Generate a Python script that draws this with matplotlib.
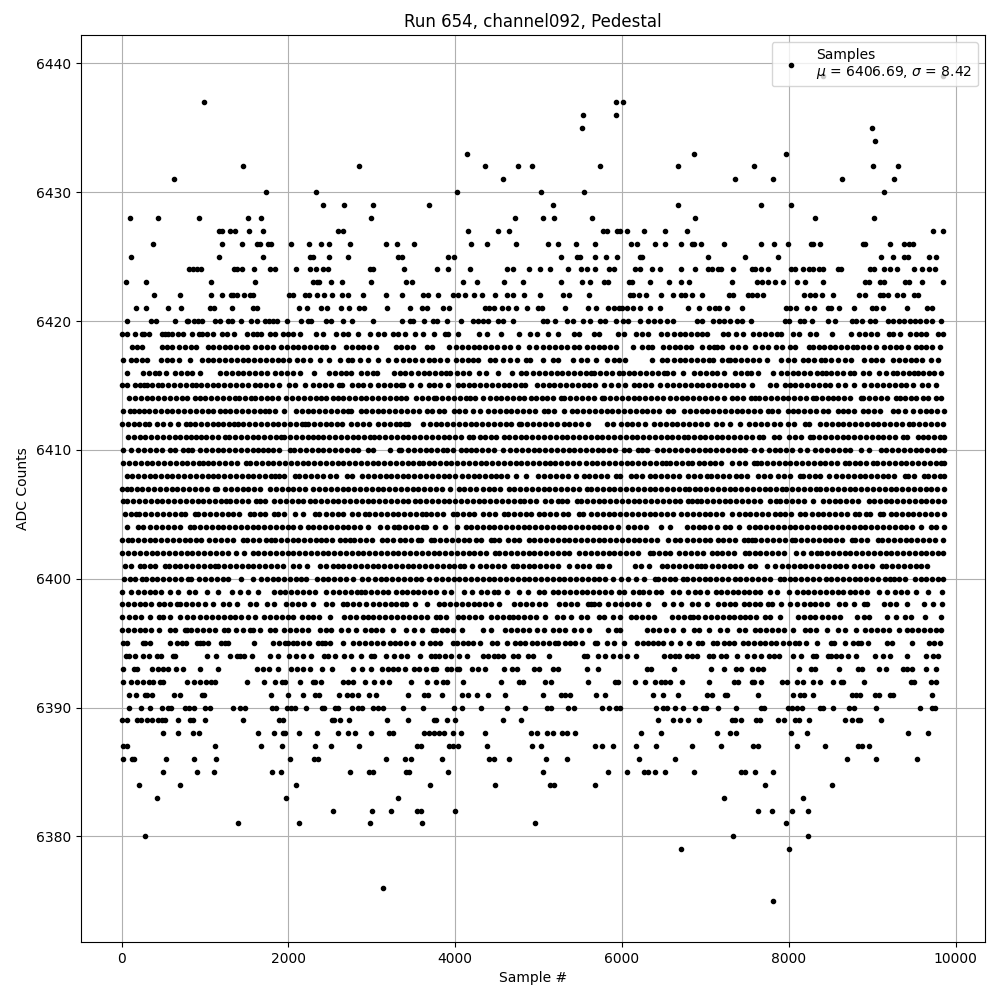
import matplotlib
matplotlib.use("Agg")
import matplotlib.pyplot as plt

# sample numbers, one list per ADC level
s6439 = [8408, 9848]
s6437 = [992, 5932, 6016]
s6436 = [5536, 5932]
s6435 = [5524, 8996]
s6434 = [9032]
s6433 = [4144, 6860, 7964]
s6432 = [1460, 2852, 4360, 4756, 4924, 5740, 6676, 7580, 9008, 9308]
s6431 = [632, 4576, 7352, 7808, 8636, 9260]
s6430 = [1736, 2336, 4024, 5032, 5548, 9140]
s6429 = [2420, 2672, 3020, 3688, 5176, 6676, 7664, 8024]
s6428 = [104, 440, 932, 1520, 1676, 2996, 4720, 5056, 5188, 5644, 6872, 8312, 9020]
s6427 = [1172, 1200, 1304, 1364, 1532, 1700, 2600, 2660, 4156, 4516, 4648, 5776, 5824, 5936, 5976, 6064, 6268, 6520, 6776, 9728, 9848]
s6426 = [380, 1208, 1448, 1628, 1660, 1760, 1792, 2036, 2252, 2396, 2492, 2744, 3176, 3304, 3508, 4192, 4384, 4732, 5116, 5236, 5452, 5680, 6112, 6184, 6400, 6520, 6708, 6836, 6860, 6944, 7220, 7664, 7820, 7988, 8268, 8288, 8372, 8888, 8912, 9212, 9380, 9440, 9488]
s6425 = [116, 1172, 1700, 2260, 2292, 2492, 2720, 3320, 3364, 3916, 3988, 5272, 5464, 5496, 5680, 5812, 5944, 6216, 6244, 7028, 7472, 7868, 9104, 9248, 9380, 9428, 9680, 9764]
s6424 = [812, 860, 900, 948, 1352, 1388, 1440, 1592, 1784, 1844, 2088, 2264, 2332, 2420, 2472, 2980, 3020, 3388, 3784, 3916, 4180, 4624, 4696, 4888, 5020, 5140, 5356, 5512, 5576, 5680, 5848, 5908, 6160, 6216, 6364, 6460, 6712, 6872, 7028, 7076, 7148, 7188, 7328, 7556, 7592, 7664, 7748, 8024, 8080, 8168, 8240, 8288, 8360, 8408, 8588, 8624, 8972, 9020, 9140, 9208, 9296, 9500, 9596, 9680, 9752]
s6423 = [56, 296, 1076, 1604, 2300, 2340, 2372, 2516, 2648, 2996, 3412, 3484, 4096, 4264, 4588, 4816, 5272, 5524, 5616, 5788, 5836, 6088, 6120, 6340, 6568, 6712, 6800, 7316, 7616, 7676, 7748, 7832, 7928, 8096, 8192, 8408, 8912, 8960, 9092, 9140, 9392, 9440, 9596, 9848]
s6422 = [392, 704, 1076, 1200, 1308, 1340, 1380, 1468, 1540, 1580, 2012, 2060, 2200, 2252, 2348, 2432, 2528, 2648, 2720, 2900, 3176, 3364, 3616, 3676, 3796, 3976, 4036, 4120, 4228, 4316, 4480, 4624, 4696, 4828, 5020, 5296, 5368, 5608, 6100, 6136, 6208, 6288, 6472, 6616, 6708, 6760, 6836, 6956, 7280, 7328, 7508, 7556, 7616, 7688, 8180, 8252, 8312, 8396, 8528, 8840, 8912, 9092, 9128, 9188, 9296, 9368, 9500, 9548]
s6421 = [176, 296, 560, 716, 1060, 1112, 1328, 1580, 1620, 2132, 2228, 2396, 2468, 2636, 2732, 2852, 2912, 3188, 3460, 3604, 3656, 3856, 3928, 4356, 4410, 4470, 4556, 4636, 4732, 4864, 4996, 5036, 5320, 5596, 5692, 5836, 5900, 5960, 6000, 6060, 6136, 6220, 6340, 6460, 6788, 6920, 7040, 7120, 7168, 7256, 7436, 7964, 8020, 8088, 8216, 8300, 8468, 8508, 8600, 8780, 8996, 9048, 9128, 9416, 9656, 9716]
s6420 = [68, 356, 416, 644, 780, 800, 872, 920, 968, 1124, 1184, 1280, 1320, 1436, 1556, 1628, 1724, 1772, 1820, 1860, 1988, 2148, 2240, 2276, 2456, 2516, 2660, 2768, 3020, 3364, 3460, 3496, 3628, 3736, 3776, 3904, 4072, 4216, 4276, 4336, 4396, 4516, 4576, 4696, 5056, 5096, 5200, 5344, 5416, 5536, 5620, 5736, 5796, 5932, 6016, 6076, 6216, 6316, 6388, 6456, 6536, 6608, 6896, 6956, 7088, 7160, 7228, 7296, 7376, 7436, 7544, 7952, 8008, 8132, 8180, 8276, 8468, 8552, 8756, 8808, 8876, 8972, 9032, 9188, 9248, 9320, 9376, 9448, 9512, 9572, 9644, 9716, 9824]
s6419 = [0, 68, 164, 240, 272, 332, 480, 520, 560, 608, 680, 740, 840, 928, 964, 1028, 1100, 1200, 1260, 1352, 1508, 1580, 1620, 1676, 1784, 1844, 1940, 2000, 2060, 2140, 2332, 2420, 2572, 2652, 2720, 2840, 2980, 3080, 3152, 3256, 3316, 3396, 3524, 3616, 3748, 3876, 3916, 4036, 4288, 4376, 4552, 4768, 4896, 4976, 5116, 5236, 5420, 5490, 5660, 5730, 5950, 6020, 6170, 6240, 6310, 6470, 6540, 6620, 6700, 6760, 6830, 6900, 6960, 7020, 7208, 7268, 7368, 7450, 7576, 7648, 7720, 7790, 7860, 7908, 8048, 8120, 8256, 8328, 8516, 8744, 8848, 8920, 8990, 9060, 9200, 9248, 9328, 9448, 9520, 9590, 9648, 9788, 9848]
s6418 = [120, 190, 250, 480, 550, 610, 690, 760, 830, 890, 1030, 1100, 1170, 1240, 1300, 1370, 1440, 1500, 1600, 1670, 1740, 1810, 1910, 1980, 2050, 2120, 2190, 2260, 2330, 2400, 2450, 2540, 2690, 2760, 2830, 2900, 2970, 3050, 3290, 3350, 3420, 3490, 3660, 3720, 3928, 4010, 4080, 4150, 4220, 4290, 4360, 4430, 4500, 4590, 4660, 4750, 4890, 4970, 5056, 5128, 5200, 5270, 5340, 5420, 5488, 5576, 5650, 5720, 5790, 5860, 5930, 6130, 6240, 6310, 6360, 6490, 6560, 6630, 6700, 6770, 6830, 6960, 7040, 7100, 7140, 7200, 7320, 7390, 7480, 7600, 7680, 7750, 7848, 7920, 8010, 8080, 8248, 8290, 8360, 8420, 8490, 8560, 8630, 8700, 8770, 8820, 8890, 8960, 9050, 9140, 9210, 9280, 9350, 9430, 9520, 9590, 9650, 9720, 9808]
s6417 = [20, 110, 170, 240, 310, 470, 540, 600, 690, 824, 964, 1030, 1100, 1170, 1240, 1310, 1380, 1450, 1520, 1590, 1660, 1730, 1800, 1870, 1940, 2010, 2100, 2180, 2260, 2380, 2492, 2620, 2720, 2768, 2860, 2960, 3080, 3200, 3290, 3380, 3450, 3520, 3600, 3680, 3750, 3820, 3900, 4010, 4080, 4150, 4210, 4276, 4416, 4476, 4576, 4656, 4736, 4848, 4896, 5048, 5176, 5236, 5408, 5504, 5584, 5690, 5816, 5900, 5970, 6036, 6356, 6476, 6544, 6620, 6690, 6760, 6830, 6900, 6970, 7040, 7090, 7200, 7268, 7290, 7360, 7430, 7500, 7570, 7640, 7736, 7908, 7988, 8068, 8168, 8228, 8300, 8388, 8436, 8508, 8588, 8680, 8748, 8908, 8988, 9048, 9120, 9248, 9320, 9390, 9460, 9530, 9600, 9708, 9788]
s6416 = [68, 260, 330, 400, 450, 530, 640, 710, 780, 850, 940, 1180, 1250, 1320, 1390, 1460, 1530, 1600, 1670, 1745, 1840, 1910, 1980, 2050, 2135, 2304, 2490, 2560, 2630, 2695, 2756, 2870, 2940, 3010, 3065, 3270, 3340, 3400, 3470, 3550, 3620, 3690, 3760, 3830, 3890, 3936, 4025, 4095, 4168, 4285, 4370, 4516, 4676, 4785, 4850, 4928, 5004, 5076, 5145, 5215, 5285, 5355, 5425, 5495, 5565, 5625, 5665, 5735, 5805, 5875, 5970, 6010, 6080, 6150, 6220, 6290, 6360, 6430, 6500, 6545, 6616, 6736, 6865, 6935, 7005, 7075, 7145, 7225, 7355, 7425, 7495, 7545, 7636, 7815, 7905, 7975, 8045, 8115, 8185, 8255, 8335, 8395, 8445, 8510, 8580, 8650, 8730, 8785, 8895, 8960, 9085, 9160, 9245, 9296, 9375, 9445, 9505, 9545, 9615, 9685, 9745, 9824]
s6415 = [8, 70, 165, 220, 270, 300, 370, 440, 480, 560, 630, 700, 770, 840, 895, 950, 1020, 1090, 1160, 1230, 1300, 1370, 1440, 1510, 1605, 1660, 1730, 1800, 1885, 2010, 2075, 2195, 2295, 2370, 2440, 2510, 2605, 2648, 2760, 2830, 2900, 2975, 3075, 3145, 3215, 3285, 3350, 3380, 3470, 3580, 3685, 3750, 3820, 3910, 4030, 4090, 4160, 4230, 4300, 4370, 4440, 4510, 4580, 4650, 4720, 4790, 4840, 4984, 5050, 5120, 5190, 5260, 5330, 5400, 5470, 5540, 5610, 5680, 5780, 5865, 5950, 6035, 6150, 6205, 6275, 6345, 6450, 6545, 6615, 6685, 6755, 6825, 6895, 6965, 7035, 7105, 7175, 7245, 7315, 7385, 7456, 7556, 7775, 7845, 7955, 8010, 8080, 8150, 8220, 8290, 8360, 8430, 8500, 8595, 8672, 8780, 8900, 8990, 9060, 9130, 9200, 9270, 9340, 9410, 9485, 9595, 9665, 9770]
s6414 = [90, 160, 230, 300, 370, 440, 510, 580, 650, 720, 790, 875, 935, 1005, 1075, 1145, 1215, 1290, 1365, 1410, 1480, 1555, 1600, 1670, 1740, 1805, 1876, 1975, 2045, 2115, 2185, 2255, 2325, 2395, 2455, 2535, 2595, 2655, 2725, 2795, 2865, 2935, 3005, 3075, 3145, 3215, 3285,
         3350, 3410, 3535, 3605, 3675, 3740, 3775, 3845, 3915, 3985, 4055, 4125, 4180, 4235, 4330, 4415, 4485, 4555, 4625, 4695, 4765, 4830, 4912, 4965, 5035, 5105, 5175, 5270, 5310, 5380, 5450, 5520, 5590, 5660, 5760, 5790, 5860, 5930, 6000, 6070, 6140, 6210, 6280, 6350, 6420, 6490, 6575, 6645, 6715,
         6785, 6855, 6925, 6995, 7065, 7135, 7225, 7315, 7385, 7455, 7545, 7596, 7645, 7715, 7785, 7855, 7925, 7995, 8065, 8135, 8205, 8285, 8330, 8400, 8470, 8530, 8595, 8665, 8735, 8865, 8895, 8965, 9035, 9105, 9175, 9285, 9328, 9390, 9460, 9530, 9605, 9675, 9765, 9828]
s6413 = [20, 100, 150, 210, 270, 330, 400, 470, 540, 610, 680, 750, 820, 890, 960, 1030, 1100, 1175, 1235, 1305, 1375, 1445, 1515, 1585, 1655, 1725, 1770, 1840, 1945, 2088, 2160, 2230, 2300, 2370, 2440, 2510, 2580, 2650, 2715, 2755, 2865, 2930, 3000, 3070, 3140, 3210, 3280,
         3350, 3420, 3495, 3565, 3660, 3724, 3808, 3865, 3990, 4045, 4115, 4210, 4300, 4395, 4465, 4535, 4605, 4675, 4745, 4815, 4885, 4955, 5070, 5110, 5180, 5300, 5395, 5465, 5535, 5605, 5675, 5745, 5815, 5885, 5955, 6025, 6095, 6165, 6235, 6305, 6375, 6445, 6550, 6616, 6748,
         6815, 6885, 6955, 7025, 7095, 7165, 7235, 7305, 7375, 7445, 7515, 7585, 7655, 7745, 7795, 7865, 7995, 8045, 8115, 8185, 8255, 8330, 8405, 8475, 8585, 8645, 8715, 8785, 8895, 8955, 9025, 9095, 9255, 9308, 9395, 9495, 9570, 9640, 9710, 9780, 9860]
s6412 = [5, 75, 145, 212, 280, 330, 430, 500, 575, 680, 770, 815, 880, 950, 1020, 1090, 1160, 1215, 1290, 1345, 1390, 1460, 1530, 1600, 1670, 1740, 1810, 1880, 1950, 2020, 2090, 2160, 2205, 2235, 2305, 2375, 2445, 2515, 2585, 2645, 2755, 2825, 2895, 2965, 3075, 3150, 3220, 3290, 3335,
         3400, 3430, 3616, 3695, 3765, 3835, 3905, 3975, 4045, 4115, 4185, 4255, 4325, 4395, 4465, 4535, 4605, 4675, 4760, 4795, 4865, 4935, 5005, 5075, 5145, 5215, 5310, 5365, 5435, 5505, 5590, 5816, 5896, 5985, 6055, 6125, 6195, 6280, 6385, 6455, 6525, 6595, 6665, 6735, 6805,
         6875, 6945, 7015, 7130, 7195, 7295, 7420, 7520, 7595, 7665, 7735, 7820, 7895, 7995, 8065, 8195, 8245, 8375, 8445, 8515, 8585, 8655, 8725, 8795, 8865, 8935, 9005, 9075, 9145, 9215, 9285, 9355, 9445, 9495, 9565, 9635, 9705, 9775, 9845]
s6411 = [75, 145, 215, 285, 355, 425, 495, 565, 635, 705, 775, 835, 890, 955, 1010, 1080, 1150, 1235, 1290, 1360, 1430, 1500, 1570, 1640, 1710, 1780, 1850, 1915, 1950, 2020, 2090, 2160, 2230, 2295, 2350, 2420, 2490, 2560, 2630, 2700, 2770, 2840, 2910, 2975, 3032, 3090, 3160, 3230, 3300,
         3370, 3440, 3510, 3580, 3650, 3720, 3790, 3860, 3930, 4000, 4070, 4170, 4215, 4300, 4355, 4425, 4495, 4590, 4645, 4715, 4785, 4855, 4925, 4995, 5065, 5135, 5205, 5275, 5345, 5415, 5485, 5555, 5625, 5695, 5765, 5835, 5905, 5975, 6045, 6115, 6185, 6255, 6325, 6395, 6465, 6535, 6605, 6675, 6745, 6790,
         6860, 6930, 6995, 7065, 7135, 7205, 7275, 7345, 7415, 7485, 7555, 7640, 7695, 7820, 7885, 8000, 8075, 8145, 8260, 8295, 8365, 8435, 8505, 8575, 8645, 8715, 8785, 8855, 8925, 8995, 9065, 9135, 9205, 9275, 9370, 9415, 9550, 9605, 9675, 9745, 9815, 9860]
s6410 = [15, 110, 200, 270, 340, 410, 480, 575, 640, 735, 800, 845, 940, 1010, 1080, 1150, 1220, 1290, 1360, 1430, 1500, 1570, 1640, 1695, 1750, 1820, 1890, 2015, 2070, 2140, 2210, 2280, 2350, 2420, 2490, 2560, 2630, 2700, 2770, 2840, 2955, 3020, 3220, 3330,
         3350, 3435, 3505, 3575, 3645, 3715, 3785, 3855, 3900, 3976, 4075, 4135, 4185, 4255, 4325, 4395, 4465, 4570, 4660, 4730, 4800, 4870, 4940, 5010, 5080, 5150, 5220, 5290, 5360, 5430, 5500, 5570, 5640, 5710, 5770, 5845, 5915, 6020, 6088, 6195, 6235, 6304, 6425, 6495, 6565, 6635, 6705, 6780,
         6850, 6920, 6990, 7060, 7130, 7200, 7270, 7340, 7410, 7480, 7580, 7668, 7760, 7830, 7900, 7970, 8040, 8140, 8216, 8320, 8390, 8460, 8530, 8600, 8670, 8740, 8870, 8960, 9100, 9170, 9240, 9310, 9380, 9450, 9520, 9590, 9660, 9730, 9800, 9858]
s6409 = [20, 90, 160, 230, 300, 370, 440, 510, 580, 650, 720, 790, 860, 930, 980, 1030, 1100, 1170, 1240, 1310, 1380, 1495, 1540, 1610, 1680, 1750, 1820, 1890, 1960, 2030, 2100, 2170, 2240, 2310, 2380, 2450, 2520, 2590, 2660, 2730, 2800, 2870, 2940, 3010, 3080, 3150, 3220, 3290,
         3360, 3430, 3500, 3570, 3610, 3688, 3745, 3815, 3885, 3955, 4025, 4095, 4165, 4235, 4305, 4375, 4445, 4515, 4585, 4655, 4725, 4795, 4865, 4935, 5005, 5075, 5140, 5200, 5270, 5340, 5410, 5490, 5565, 5635, 5705, 5775, 5845, 5915, 5985, 6055, 6125, 6195, 6265, 6335, 6405, 6475, 6530, 6580, 6650, 6720, 6790,
         6835, 6920, 6980, 7050, 7120, 7190, 7320, 7400, 7470, 7580, 7616, 7670, 7740, 7810, 7880, 7950, 8020, 8090, 8160, 8230, 8300, 8370, 8440, 8510, 8580, 8670, 8720, 8790, 8860, 8930, 9010, 9060, 9130, 9200, 9270, 9340, 9410, 9480, 9550, 9620, 9690, 9760, 9830, 9860]
s6408 = [60, 130, 200, 270, 340, 405, 470, 540, 610, 680, 750, 820, 890, 960, 1030, 1100, 1160, 1230, 1300, 1370, 1440, 1510, 1580, 1650, 1720, 1790, 1845, 1892, 1945, 2075, 2130, 2200, 2270, 2340, 2410, 2495, 2565, 2700, 2768, 2885, 2955, 3025, 3095, 3165, 3235, 3305,
         3370, 3440, 3510, 3580, 3650, 3720, 3790, 3860, 3930, 4000, 4080, 4150, 4220, 4290, 4360, 4430, 4484, 4555, 4625, 4730, 4850, 4990, 5070, 5140, 5210, 5280, 5350, 5450, 5540, 5600, 5675, 5745, 5815, 5930, 5980, 6110, 6164, 6236, 6330, 6400, 6470, 6540, 6610, 6680, 6790,
         6860, 6930, 7020, 7070, 7140, 7210, 7280, 7370, 7428, 7500, 7630, 7700, 7780, 7870, 7940, 8010, 8130, 8170, 8240, 8310, 8380, 8480, 8570, 8640, 8710, 8780, 8850, 8920, 8990, 9060, 9130, 9190, 9260, 9395, 9430, 9500, 9620, 9670, 9740, 9810, 9860]
s6407 = [10, 60, 110, 180, 250, 320, 390, 460, 530, 600, 670, 740, 810, 880, 950, 1020, 1115, 1140, 1240, 1310, 1380, 1450, 1520, 1590, 1660, 1775, 1850, 1920, 1990, 2060, 2130, 2200, 2295, 2370, 2440, 2510, 2580, 2650, 2720, 2790, 2860, 2930, 3000, 3070, 3140, 3210, 3280,
         3350, 3420, 3490, 3560, 3630, 3700, 3770, 3840, 3940, 4050, 4110, 4180, 4255, 4330, 4400, 4470, 4540, 4650, 4710, 4780, 4850, 4920, 4990, 5060, 5130, 5200, 5270, 5340, 5410, 5480, 5575, 5630, 5700, 5770, 5840, 5910, 5980, 6050, 6120, 6190, 6260, 6330, 6400, 6470, 6540, 6610, 6680,
         6750, 6800, 6870, 6940, 7010, 7080, 7150, 7220, 7290, 7360, 7430, 7500, 7570, 7640, 7710, 7780, 7850, 7920, 7970, 8040, 8110, 8180, 8250, 8330, 8376, 8450, 8520, 8590, 8660, 8730, 8800, 8870, 8940, 9010, 9080, 9150, 9220, 9290, 9360, 9430, 9500, 9570, 9640, 9710, 9780, 9860]
s6406 = [12, 70, 140, 210, 280, 350, 420, 490, 560, 630, 700, 770, 840, 910, 980, 1050, 1120, 1190, 1255, 1300, 1370, 1440, 1510, 1615, 1660, 1720, 1830, 1900, 1970, 2040, 2110, 2180, 2255, 2320, 2390, 2460, 2530, 2600, 2670, 2740, 2810, 2880, 2950, 3020, 3090, 3160, 3230, 3300,
         3370, 3440, 3520, 3580, 3650, 3720, 3790, 3860, 3930, 4000, 4070, 4140, 4210, 4280, 4350, 4420, 4490, 4560, 4630, 4700, 4775, 4830, 4900, 4970, 5080, 5150, 5230, 5275, 5345, 5455, 5510, 5580, 5650, 5720, 5790, 5860, 5930, 6000, 6070, 6140, 6210, 6280, 6350, 6420, 6490, 6560, 6630, 6700, 6790,
         6840, 6900, 6950, 7020, 7090, 7160, 7230, 7300, 7370, 7440, 7510, 7580, 7650, 7770, 7848, 7900, 7970, 8040, 8110, 8180, 8290, 8410, 8480, 8550, 8620, 8690, 8760, 8830, 8960, 9020, 9090, 9160, 9230, 9300, 9370, 9440, 9510, 9580, 9650, 9720, 9790, 9860]
s6405 = [40, 110, 175, 210, 280, 355, 430, 500, 570, 640, 715, 765, 885, 920, 990, 1060, 1130, 1200, 1270, 1340, 1410, 1535, 1585, 1655, 1725, 1825, 1880, 1950, 2085, 2170, 2315, 2372, 2450, 2520, 2590, 2660, 2765, 2840, 2920, 2970, 3040, 3110, 3180, 3250, 3320,
         3390, 3460, 3530, 3600, 3655, 3715, 3785, 3855, 3970, 4020, 4090, 4160, 4230, 4330, 4410, 4480, 4590, 4635, 4705, 4775, 4845, 4915, 5010, 5070, 5140, 5210, 5295, 5355, 5490, 5536, 5630, 5700, 5770, 5840, 5910, 5980, 6050, 6120, 6190, 6260, 6330, 6400, 6470, 6540, 6610, 6710, 6776,
         6850, 6920, 6990, 7060, 7130, 7200, 7320, 7400, 7470, 7540, 7610, 7680, 7750, 7840, 7890, 7960, 8030, 8140, 8200, 8275, 8345, 8415, 8485, 8555, 8625, 8695, 8795, 8840, 8930, 8970, 9095, 9130, 9220, 9285, 9355, 9425, 9495, 9565, 9635, 9705, 9775, 9860]
s6404 = [70, 195, 260, 345, 415, 485, 555, 625, 695, 815, 870, 940, 1010, 1080, 1150, 1220, 1290, 1360, 1430, 1500, 1570, 1640, 1710, 1780, 1850, 1920, 1990, 2060, 2145, 2230, 2300, 2370, 2440, 2510, 2580, 2650, 2720, 2790, 2860, 2950, 3100, 3180, 3270, 3315,
         3330, 3400, 3470, 3540, 3610, 3650, 3755, 3880, 4020, 4135, 4190, 4260, 4330, 4400, 4470, 4540, 4610, 4680, 4750, 4820, 4890, 4960, 5030, 5100, 5170, 5240, 5310, 5380, 5450, 5520, 5590, 5660, 5730, 5800, 5870, 5950, 6075, 6145, 6215, 6290, 6470, 6570, 6776,
         6850, 6920, 6980, 7050, 7140, 7230, 7300, 7400, 7520, 7590, 7660, 7730, 7800, 7870, 7940, 8010, 8080, 8150, 8220, 8290, 8360, 8430, 8500, 8570, 8640, 8710, 8780, 8850, 8920, 8990, 9060, 9130, 9200, 9270, 9340, 9410, 9480, 9580, 9700, 9770, 9860]
s6403 = [10, 75, 125, 195, 265, 335, 405, 475, 545, 615, 685, 755, 825, 895, 955, 1050, 1120, 1190, 1260, 1330, 1455, 1505, 1575, 1645, 1735, 1788, 1840, 1910, 1980, 2050, 2120, 2190, 2260, 2330, 2395, 2450, 2520, 2620, 2675, 2735, 2790, 2860, 2930, 3000, 3125, 3185, 3255, 3335,
         3400, 3470, 3550, 3595, 3710, 3750, 3820, 3890, 3960, 4030, 4100, 4170, 4250, 4315, 4430, 4470, 4530, 4630, 4700, 4770, 4890, 4950, 5020, 5090, 5160, 5230, 5300, 5370, 5440, 5510, 5580, 5650, 5720, 5790, 5860, 5930, 6000, 6070, 6140, 6210, 6280, 6350, 6420, 6550, 6630, 6690, 6776,
         6850, 6920, 6990, 7060, 7155, 7215, 7285, 7355, 7460, 7515, 7560, 7600, 7670, 7740, 7810, 7880, 7950, 8035, 8080, 8150, 8220, 8290, 8360, 8430, 8500, 8570, 8640, 8760, 8800, 8870, 8940, 9075, 9115, 9195, 9260, 9330, 9400, 9470, 9540, 9610, 9680, 9750, 9845]
s6402 = [10, 80, 150, 220, 290, 360, 430, 500, 570, 640, 710, 780, 850, 920, 990, 1060, 1130, 1200, 1270, 1375, 1468, 1570, 1640, 1710, 1780, 1850, 1920, 1990, 2060, 2130, 2200, 2270, 2340, 2410, 2480, 2550, 2620, 2690, 2760, 2830, 2900, 2970, 3040, 3110, 3180, 3250, 3320,
         3390, 3460, 3530, 3600, 3670, 3740, 3810, 3880, 3950, 4020, 4090, 4160, 4230, 4300, 4370, 4480, 4530, 4600, 4670, 4740, 4810, 4880, 4950, 5020, 5090, 5160, 5230, 5300, 5370, 5490, 5560, 5630, 5700, 5770, 5840, 5910, 5980, 6050, 6120, 6190, 6330, 6370, 6440, 6510, 6575, 6680, 6750,
         6830, 6900, 6970, 7080, 7135, 7205, 7275, 7345, 7475, 7520, 7590, 7660, 7730, 7800, 7870, 7940, 8090, 8168, 8270, 8340, 8390, 8460, 8530, 8600, 8670, 8740, 8810, 8880, 8950, 9020, 9090, 9160, 9230, 9300, 9370, 9440, 9510, 9580, 9650, 9720, 9790, 9850]
s6401 = [40, 110, 220, 265, 335, 405, 515, 565, 635, 705, 775, 845, 915, 985, 1055, 1125, 1160, 1230, 1300, 1370, 1440, 1510, 1580, 1650, 1720, 1790, 1860, 1930, 2050, 2124, 2220, 2375, 2448, 2540, 2595, 2660, 2730, 2800, 2870, 2940, 3010, 3080, 3150, 3220, 3290,
         3360, 3430, 3500, 3570, 3640, 3710, 3780, 3850, 3920, 3990, 4060, 4110, 4200, 4300, 4370, 4440, 4510, 4580, 4690, 4740, 4810, 4880, 4950, 5020, 5090, 5160, 5230, 5370, 5460, 5530, 5600, 5710, 5755, 5850, 6160, 6230, 6328, 6475, 6545, 6615, 6685, 6755,
         6825, 6900, 6950, 7000, 7080, 7150, 7220, 7290, 7360, 7430, 7530, 7600, 7735, 7835, 7920, 7990, 8060, 8130, 8200, 8270, 8340, 8410, 8480, 8550, 8620, 8690, 8780, 8860, 8930, 9000, 9120, 9170, 9240, 9310, 9380, 9450, 9520, 9590, 9660]
s6400 = [25, 95, 165, 245, 290, 360, 430, 500, 570, 640, 710, 795, 832, 930, 1000, 1070, 1140, 1210, 1280, 1435, 1572, 1670, 1740, 1810, 1880, 1950, 2020, 2090, 2155, 2215, 2340, 2410, 2480, 2550, 2620, 2690, 2780, 2880, 2952, 3035, 3105, 3175, 3245, 3315,
         3385, 3455, 3525, 3595, 3690, 3770, 3840, 3910, 3980, 4050, 4120, 4190, 4260, 4330, 4400, 4470, 4540, 4610, 4680, 4750, 4820, 4890, 4960, 5030, 5100, 5170, 5240, 5310, 5380, 5450, 5520, 5590, 5660, 5730, 5800, 5890, 5990, 6070, 6164, 6270, 6390, 6430, 6500, 6570, 6640, 6730, 6784,
         6850, 6920, 6990, 7060, 7130, 7200, 7270, 7355, 7420, 7490, 7560, 7630, 7700, 7770, 7900, 7940, 8010, 8080, 8150, 8220, 8290, 8360, 8450, 8510, 8580, 8650, 8720, 8790, 8860, 8930, 9000, 9070, 9155, 9215, 9260, 9320, 9390, 9515, 9580, 9650, 9720, 9790, 9855]
s6399 = [5, 110, 195, 265, 335, 405, 475, 580, 680, 805, 880, 1020, 1160, 1320, 1420, 1510, 1640, 1825, 1895, 1965, 2035, 2105, 2175, 2245, 2315, 2445, 2535, 2605, 2675, 2755, 2825, 2875, 2920, 2990, 3060, 3130, 3200, 3285,
         3368, 3420, 3490, 3560, 3630, 3700, 3770, 3860, 3952, 4110, 4205, 4310, 4380, 4470, 4516, 4616, 4768, 4876, 5000, 5070, 5170, 5235, 5305, 5375, 5445, 5515, 5585, 5655, 5725, 5795, 5865, 5970, 6030, 6130, 6200, 6250, 6320, 6410, 6464, 6610, 6680, 6790,
         6875, 6936, 7015, 7130, 7190, 7260, 7335, 7395, 7460, 7520, 7590, 7660, 7780, 7856, 8000, 8095, 8165, 8235, 8305, 8375, 8445, 8515, 8585, 8655, 8730, 8800, 8870, 8940, 9080, 9180, 9275, 9350, 9420, 9520, 9664, 9836]
s6398 = [5, 75, 145, 215, 285, 355, 445, 505, 575, 660, 705, 775, 845, 915, 1005, 1092, 1215, 1285, 1380, 1540, 1610, 1745, 1832, 1975, 2045, 2115, 2185, 2300, 2455, 2525, 2650, 2705, 2775, 2845, 2925, 3015, 3085, 3155, 3225, 3295,
         3360, 3410, 3520, 3664, 3800, 3870, 3940, 4010, 4080, 4150, 4220, 4290, 4360, 4430, 4530, 4710, 4780, 4850, 4920, 5010, 5076, 5250, 5320, 5390, 5460, 5590, 5630, 5670, 5730, 5830, 5920, 5990, 6060, 6130, 6210, 6316, 6508, 6610, 6710,
         6840, 6910, 7020, 7150, 7220, 7300, 7360, 7460, 7520, 7590, 7660, 7750, 7796, 7908, 8015, 8100, 8180, 8250, 8320, 8390, 8460, 8600, 8680, 8780, 8900, 8940, 9140, 9210, 9280, 9420, 9620, 9730, 9840]
s6397 = [8, 90, 165, 230, 335, 450, 495, 585, 695, 790, 855, 945, 1015, 1085, 1155, 1225, 1295, 1365, 1435, 1515, 1600, 1710, 1780, 1850, 1920, 1990, 2060, 2165, 2230, 2300, 2370, 2495, 2665, 2735, 2805, 2895, 2950, 3020, 3090, 3160, 3230, 3300,
         3375, 3450, 3520, 3590, 3660, 3770, 3820, 3890, 4030, 4090, 4170, 4240, 4310, 4430, 4500, 4570, 4640, 4696, 4755, 4825, 4895, 4965, 5080, 5220, 5290, 5390, 5510, 5580, 5720, 5790, 5890, 5980, 6110, 6170, 6240, 6310, 6380, 6600, 6670, 6740, 6810,
         6850, 6915, 6992, 7070, 7140, 7210, 7280, 7340, 7416, 7470, 7540, 7610, 7715, 7780, 7890, 8110, 8180, 8250, 8320, 8395, 8470, 8540, 8610, 8816, 8900, 8960, 9180, 9280, 9390, 9460, 9632, 9828]
s6396 = [5, 75, 145, 215, 285, 355, 450, 575, 645, 755, 780, 835, 905, 975, 1045, 1115, 1225, 1275, 1375, 1450, 1535, 1580, 1655, 1775, 1835, 1950, 2020, 2090, 2160, 2235, 2375, 2445, 2515, 2630, 2720, 2808, 2915, 2985, 3055, 3125, 3250,
         3410, 3510, 3596, 3730, 3775, 3836, 3900, 3970, 4085, 4330, 4430, 4596, 4670, 4740, 4810, 4880, 4985, 5064, 5175, 5245, 5315, 5430, 5510, 5605, 5836, 5930, 5975, 6300, 6370, 6440, 6530, 6608, 6736,
         6860, 6928, 7040, 7180, 7260, 7400, 7480, 7590, 7660, 7730, 7800, 7870, 7940, 8050, 8190, 8260, 8330, 8460, 8590, 8680, 8808, 8920, 8990, 9060, 9130, 9200, 9320, 9415, 9475, 9550, 9620, 9690, 9760, 9825]
s6395 = [20, 60, 252, 280, 344, 576, 668, 720, 768, 900, 940, 980, 1040, 1190, 1240, 1280, 1592, 1820, 1892, 1964, 2000, 2060, 2100, 2180, 2252, 2360, 2400, 2444, 2500, 2660, 2780, 2850, 2920, 2990, 3060, 3130, 3220, 3280, 3340, 3416, 3496, 3600, 3696, 3756, 3816, 3976, 4016, 4096, 4156, 4216, 4296, 4436, 4496, 4620, 4716, 4776, 4836, 4916, 4976, 5056, 5128, 5196, 5236, 5316, 5376, 5436, 5516, 5676, 5704, 5824, 5904, 6028, 6176, 6256, 6316, 6376, 6436, 6496, 6588, 6700, 6800, 6908, 6960, 7088, 7136, 7220, 7288, 7340, 7448, 7510, 7580, 7650, 7720, 7790, 7848, 7928, 8000, 8070, 8120, 8204, 8336, 8508, 8548, 8680, 8768, 8828, 8868, 8948, 9176, 9236, 9476, 9680, 9740, 9812]
s6394 = [48, 92, 164, 260, 332, 428, 468, 620, 640, 1020, 1136, 1304, 1388, 1420, 1472, 1568, 1780, 1872, 2012, 2088, 2180, 2268, 2428, 2480, 2564, 2672, 2756, 2876, 2988, 3032, 3176, 3268, 3352, 3424, 3580, 3704, 3756, 3800, 3880, 3952, 4048, 4144, 4336, 4396, 4468, 4516, 4568, 4696, 4756, 4876, 4936, 5128, 5548, 5576, 5716, 5800, 5896, 5976, 6056, 6172, 6508, 6576, 6636, 6688, 6784, 6840, 6900, 7040, 7088, 7184, 7244, 7376, 7496, 7580, 7664, 7760, 7820, 7888, 8048, 8144, 8288, 8324, 8468, 8504, 8564, 8624, 8708, 8804, 9032, 9128, 9212, 9416, 9644, 9728, 9788]
s6393 = [20, 152, 188, 368, 440, 500, 560, 656, 740, 944, 1160, 1620, 1692, 1772, 1880, 2036, 2108, 2180, 2260, 2408, 2528, 2780, 2888, 2988, 3120, 3200, 3260, 3316, 3396, 3504, 3568, 3648, 3736, 3764, 3904, 3952, 4016, 4048, 4196, 4276, 4360, 4588, 4684, 4744, 4948, 5008, 5176, 5236, 5584, 5716, 6296, 6352, 6628, 7064, 7220, 7364, 7424, 7556, 7628, 7688, 8120, 8264, 8312, 8600, 8828, 8876, 9080, 9164, 9368, 9416, 9476, 9644, 9764]
s6392 = [20, 116, 188, 260, 332, 380, 460, 500, 788, 872, 940, 1012, 1076, 1124, 1508, 1712, 1840, 1928, 1964, 2144, 2300, 2324, 2396, 2660, 2720, 2780, 2924, 3032, 3120, 3212, 3472, 3664, 3772, 3856, 3904, 4096, 4552, 4768, 4816, 5080, 5152, 5596, 5920, 5956, 6160, 6280, 6400, 6464, 6520, 6572, 6724, 7040, 7340, 7388, 7556, 7580, 7664, 7916, 7976, 8096, 8168, 8288, 8372, 8528, 8624, 8648, 8900, 9464, 9500, 9704, 9764]
s6391 = [92, 176, 280, 308, 368, 632, 704, 964, 988, 1796, 2000, 2180, 2324, 2372, 2612, 2708, 2768, 2840, 2972, 3056, 3436, 3628, 3676, 3844, 4084, 4156, 4264, 4396, 4600, 5048, 5272, 5320, 5380, 5692, 5800, 6376, 6496, 6676, 7016, 7076, 7232, 7256, 7628, 8048, 8132, 8180, 8288, 8756, 8804, 8852, 9032, 9080, 9212, 9248, 9716]
s6390 = [92, 236, 344, 488, 552, 596, 764, 812, 872, 1004, 1064, 1340, 1424, 1484, 1808, 1856, 1980, 2036, 2084, 2216, 2400, 2432, 2564, 2600, 2768, 2840, 2888, 3020, 3080, 3140, 3376, 3616, 3988, 4084, 4312, 4624, 4840, 5104, 5152, 5356, 5428, 5764, 5848, 5932, 5980, 6412, 6496, 6544, 6640, 6736, 6872, 6968, 7004, 7148, 7364, 7668, 7700, 7988, 8036, 8096, 8156, 8372, 8412, 8528, 8720, 8780, 9044, 9572, 9716, 9752]
s6389 = [0, 68, 188, 228, 308, 360, 440, 488, 524, 680, 824, 860, 1004, 1460, 1892, 1940, 2528, 2552, 2624, 2732, 3188, 3436, 3748, 3772, 3904, 3996, 4576, 4792, 6436, 6616, 6700, 6788, 6920, 7316, 7352, 7424, 7604, 7652, 7868, 7940, 8072, 8120, 8240, 8672, 8756, 8828, 8852, 9104]
s6388 = [500, 680, 860, 932, 1640, 1832, 1940, 1964, 2132, 2348, 2600, 2720, 2804, 2996, 3212, 3260, 3628, 3688, 3748, 3808, 3868, 3976, 4072, 4360, 4912, 4976, 5104, 5176, 5284, 5336, 5440, 6232, 6472, 7136, 7292, 7364, 8024, 8216, 9428, 9668]
s6387 = [20, 68, 1124, 1676, 1928, 2324, 2516, 2852, 3544, 3584, 3928, 3976, 4028, 4384, 4924, 5032, 5680, 5764, 5896, 6172, 6412, 6836, 7184, 7568, 7628, 8096, 8432, 8828, 8876, 8960]
s6386 = [20, 128, 152, 536, 872, 1136, 2024, 2312, 2360, 3176, 3400, 3472, 3844, 4408, 4468, 4648, 5092, 5344, 6208, 6640, 8696, 9044, 9536]
s6385 = [500, 908, 1112, 1808, 1916, 2744, 2972, 3020, 3416, 3448, 3916, 5056, 5836, 6064, 6268, 6316, 6400, 6520, 6860, 7424, 7472, 7592, 7808]
s6384 = [212, 704, 2096, 3700, 4480, 5140, 5188, 5680, 7712, 8516]
s6383 = [428, 1976, 3320, 7220, 8168]
s6382 = [2540, 3008, 3236, 3544, 3592, 4000, 7628, 7796, 8036, 8228]
s6381 = [1400, 2132, 2984, 3604, 4960, 7964]
s6380 = [284, 7328, 8228]
s6379 = [6712, 8000]
s6376 = [3140]
s6375 = [7808]

levels = [6439, 6437, 6436, 6435, 6434, 6433, 6432, 6431, 6430, 6429, 6428, 6427, 6426, 6425, 6424, 6423, 6422, 6421, 6420, 6419, 6418, 6417, 6416, 6415, 6414, 6413, 6412, 6411, 6410, 6409, 6408, 6407, 6406, 6405, 6404, 6403, 6402, 6401, 6400, 6399, 6398, 6397, 6396, 6395, 6394, 6393, 6392, 6391, 6390, 6389, 6388, 6387, 6386, 6385, 6384, 6383, 6382, 6381, 6380, 6379, 6376, 6375]
samples = [s6439, s6437, s6436, s6435, s6434, s6433, s6432, s6431, s6430, s6429, s6428, s6427, s6426, s6425, s6424, s6423, s6422, s6421, s6420, s6419, s6418, s6417, s6416, s6415, s6414, s6413, s6412, s6411, s6410, s6409, s6408, s6407, s6406, s6405, s6404, s6403, s6402, s6401, s6400, s6399, s6398, s6397, s6396, s6395, s6394, s6393, s6392, s6391, s6390, s6389, s6388, s6387, s6386, s6385, s6384, s6383, s6382, s6381, s6380, s6379, s6376, s6375]

x = []
y = []
for lev, s in zip(levels, samples):
    x += s
    y += [lev] * len(s)

fig = plt.figure(figsize=(10, 10))
plt.plot(x, y, 'k.', label='Samples\n$\\mu$ = 6406.69, $\\sigma$ = 8.42')
plt.title('Run 654, channel092, Pedestal')
plt.xlabel('Sample #')
plt.ylabel('ADC Counts')
plt.xlim(-493, 10353)
plt.ylim(6371.8, 6442.2)
plt.grid(True)
plt.legend(loc='upper right')
plt.subplots_adjust(left=0.0805, right=0.985, top=0.965, bottom=0.058)
plt.savefig('out.png', dpi=100)
